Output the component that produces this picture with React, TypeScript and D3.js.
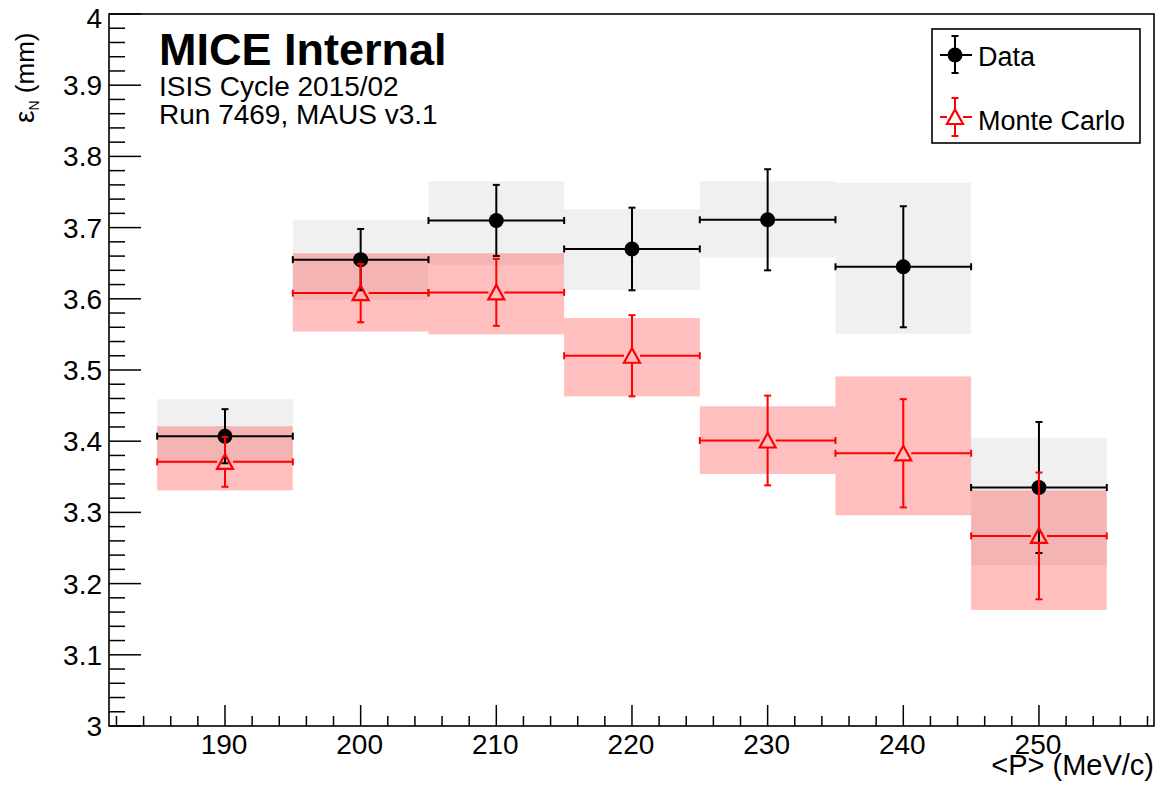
import React from "react";
import * as d3 from "d3";

const momentum = [190, 200, 210, 220, 230, 240, 250];
const binHalfWidth = 5;
const dataMean = [3.407, 3.655, 3.71, 3.67, 3.711, 3.645, 3.335];
const dataErr = [0.038, 0.043, 0.05, 0.058, 0.071, 0.085, 0.092];
const dataSysLo = [3.369, 3.599, 3.648, 3.612, 3.658, 3.551, 3.226];
const dataSysHi = [3.459, 3.711, 3.765, 3.726, 3.765, 3.763, 3.405];
const mcMean = [3.371, 3.608, 3.609, 3.52, 3.401, 3.383, 3.267];
const mcErr = [0.035, 0.041, 0.047, 0.057, 0.063, 0.076, 0.089];
const mcSysLo = [3.331, 3.554, 3.55, 3.463, 3.354, 3.296, 3.163];
const mcSysHi = [3.421, 3.664, 3.664, 3.573, 3.449, 3.491, 3.331];

const xMajorTicks = [190, 200, 210, 220, 230, 240, 250];
const yMajorTicks = [3, 3.1, 3.2, 3.3, 3.4, 3.5, 3.6, 3.7, 3.8, 3.9, 4];
const yTickLabels = ["3", "3.1", "3.2", "3.3", "3.4", "3.5", "3.6", "3.7", "3.8", "3.9", "4"];
const legendLabels = ["Data", "Monte Carlo"];
const headerLines = ["MICE Internal", "ISIS Cycle 2015/02", "Run 7469, MAUS v3.1"];

const W = 1159;
const H = 792;
const L = 109, R = 1154, T = 14, B = 726;
const FONT = "'Liberation Sans', Arial, Helvetica, sans-serif";

export default function App() {
  const x = d3.scaleLinear().domain([181.45, 258.48]).range([L, R]);
  const y = d3.scaleLinear().domain([3, 4]).range([B, T]);
  const xMinor = d3.range(182, 259, 2).filter((v) => v % 10 !== 0);
  const yMinor = d3.range(0, 51).map((i) => 3 + i * 0.02).filter((_, i) => i % 5 !== 0);

  const cap = 3.5;
  const gap = 8;

  const errCross = (
    cx: number, cy: number, xl: number, xr: number, yt: number, yb: number,
    color: string, key: string, withGap: boolean, hCaps = true
  ) => {
    const g = withGap ? gap : 0;
    const segs: [number, number, number, number][] = [];
    segs.push([xl, cy, cx - g, cy]);
    segs.push([cx + g, cy, xr, cy]);
    if (yt < cy - g) segs.push([cx, yt, cx, cy - (withGap ? 7.5 : 0)]);
    if (yb > cy + g) segs.push([cx, cy + (withGap ? 7.5 : 0), cx, yb]);
    return (
      <g key={key} stroke={color} strokeWidth={2} fill="none">
        {segs.map((s, i) => (
          <line key={i} x1={s[0]} y1={s[1]} x2={s[2]} y2={s[3]} />
        ))}
        {hCaps && <line x1={xl} y1={cy - cap} x2={xl} y2={cy + cap} />}
        {hCaps && <line x1={xr} y1={cy - cap} x2={xr} y2={cy + cap} />}
        <line x1={cx - cap} y1={yt} x2={cx + cap} y2={yt} />
        <line x1={cx - cap} y1={yb} x2={cx + cap} y2={yb} />
      </g>
    );
  };

  const tri = (cx: number, cy: number, key: string) => (
    <path
      key={key}
      d={`M${cx},${cy - 7.5} L${cx + 8},${cy + 7} L${cx - 8},${cy + 7} Z`}
      fill="none"
      stroke="red"
      strokeWidth={2.2}
    />
  );

  return (
    <svg width={W} height={H} style={{ position: "absolute", left: 0, top: 0, background: "white" }} fontFamily={FONT}>
      <rect x={0} y={0} width={W} height={H} fill="white" />
      {momentum.map((m, i) => (
        <rect
          key={"ds" + i}
          x={x(m - binHalfWidth)}
          width={x(m + binHalfWidth) - x(m - binHalfWidth)}
          y={y(dataSysHi[i])}
          height={y(dataSysLo[i]) - y(dataSysHi[i])}
          fill="rgb(240,240,240)"
        />
      ))}
      {momentum.map((m, i) => (
        <rect
          key={"ms" + i}
          x={x(m - binHalfWidth)}
          width={x(m + binHalfWidth) - x(m - binHalfWidth)}
          y={y(mcSysHi[i])}
          height={y(mcSysLo[i]) - y(mcSysHi[i])}
          fill="red"
          fillOpacity={0.25}
        />
      ))}
      {momentum.map((m, i) =>
        errCross(x(m), y(dataMean[i]), x(m - binHalfWidth), x(m + binHalfWidth), y(dataMean[i] + dataErr[i]), y(dataMean[i] - dataErr[i]), "black", "de" + i, false)
      )}
      {momentum.map((m, i) => (
        <circle key={"dc" + i} cx={x(m)} cy={y(dataMean[i])} r={7.5} fill="black" />
      ))}
      {momentum.map((m, i) =>
        errCross(x(m), y(mcMean[i]), x(m - binHalfWidth), x(m + binHalfWidth), y(mcMean[i] + mcErr[i]), y(mcMean[i] - mcErr[i]), "red", "me" + i, true)
      )}
      {momentum.map((m, i) => tri(x(m), y(mcMean[i]), "mt" + i))}

      <rect x={L} y={T} width={R - L} height={B - T} fill="none" stroke="black" strokeWidth={1.6} />

      {xMajorTicks.map((v) => (
        <g key={"xt" + v}>
          <line x1={x(v)} x2={x(v)} y1={B} y2={B - 21} stroke="black" strokeWidth={1.5} />
          <text x={x(v) - 1} y={754} textAnchor="middle" fontSize={28}>
            {v}
          </text>
        </g>
      ))}
      {xMinor.map((v) => (
        <line key={"xm" + v} x1={x(v)} x2={x(v)} y1={B} y2={B - 10} stroke="black" strokeWidth={1.5} />
      ))}
      {yMajorTicks.map((v, i) => (
        <g key={"yt" + i}>
          <line x1={L} x2={L + 32} y1={y(v)} y2={y(v)} stroke="black" strokeWidth={1.5} />
          <text x={102} y={y(v) + (i === yMajorTicks.length - 1 ? 14 : 10)} textAnchor="end" fontSize={28}>
            {yTickLabels[i]}
          </text>
        </g>
      ))}
      {yMinor.map((v, i) => (
        <line key={"ym" + i} x1={L} x2={L + 16} y1={y(v)} y2={y(v)} stroke="black" strokeWidth={1.5} />
      ))}

      <text x={1154} y={775} textAnchor="end" fontSize={29}>
        {"<P> (MeV/c)"}
      </text>
      <text transform="translate(34,123) rotate(-90)" fontSize={26}>
        <tspan fontSize={28}>ε</tspan>
        <tspan fontSize={14} dy={5}>N</tspan>
        <tspan dy={-5}>{" (mm)"}</tspan>
      </text>

      <text x={159} y={65} fontSize={45} fontWeight="bold">
        {headerLines[0]}
      </text>
      <text x={159} y={96} fontSize={28}>
        {headerLines[1]}
      </text>
      <text x={159} y={124} fontSize={28}>
        {headerLines[2]}
      </text>

      <rect x={932} y={29} width={208} height={114} fill="white" stroke="black" strokeWidth={1.6} />
      {errCross(955, 55, 940, 972, 36, 73, "black", "ld", false, false)}
      <circle cx={955} cy={55} r={7.5} fill="black" />
      <text x={978} y={66} fontSize={27}>
        {legendLabels[0]}
      </text>
      {errCross(955, 117, 940, 972, 98, 136, "red", "lm", true, false)}
      {tri(955, 117, "ltri")}
      <text x={978} y={130} fontSize={27}>
        {legendLabels[1]}
      </text>
    </svg>
  );
}
